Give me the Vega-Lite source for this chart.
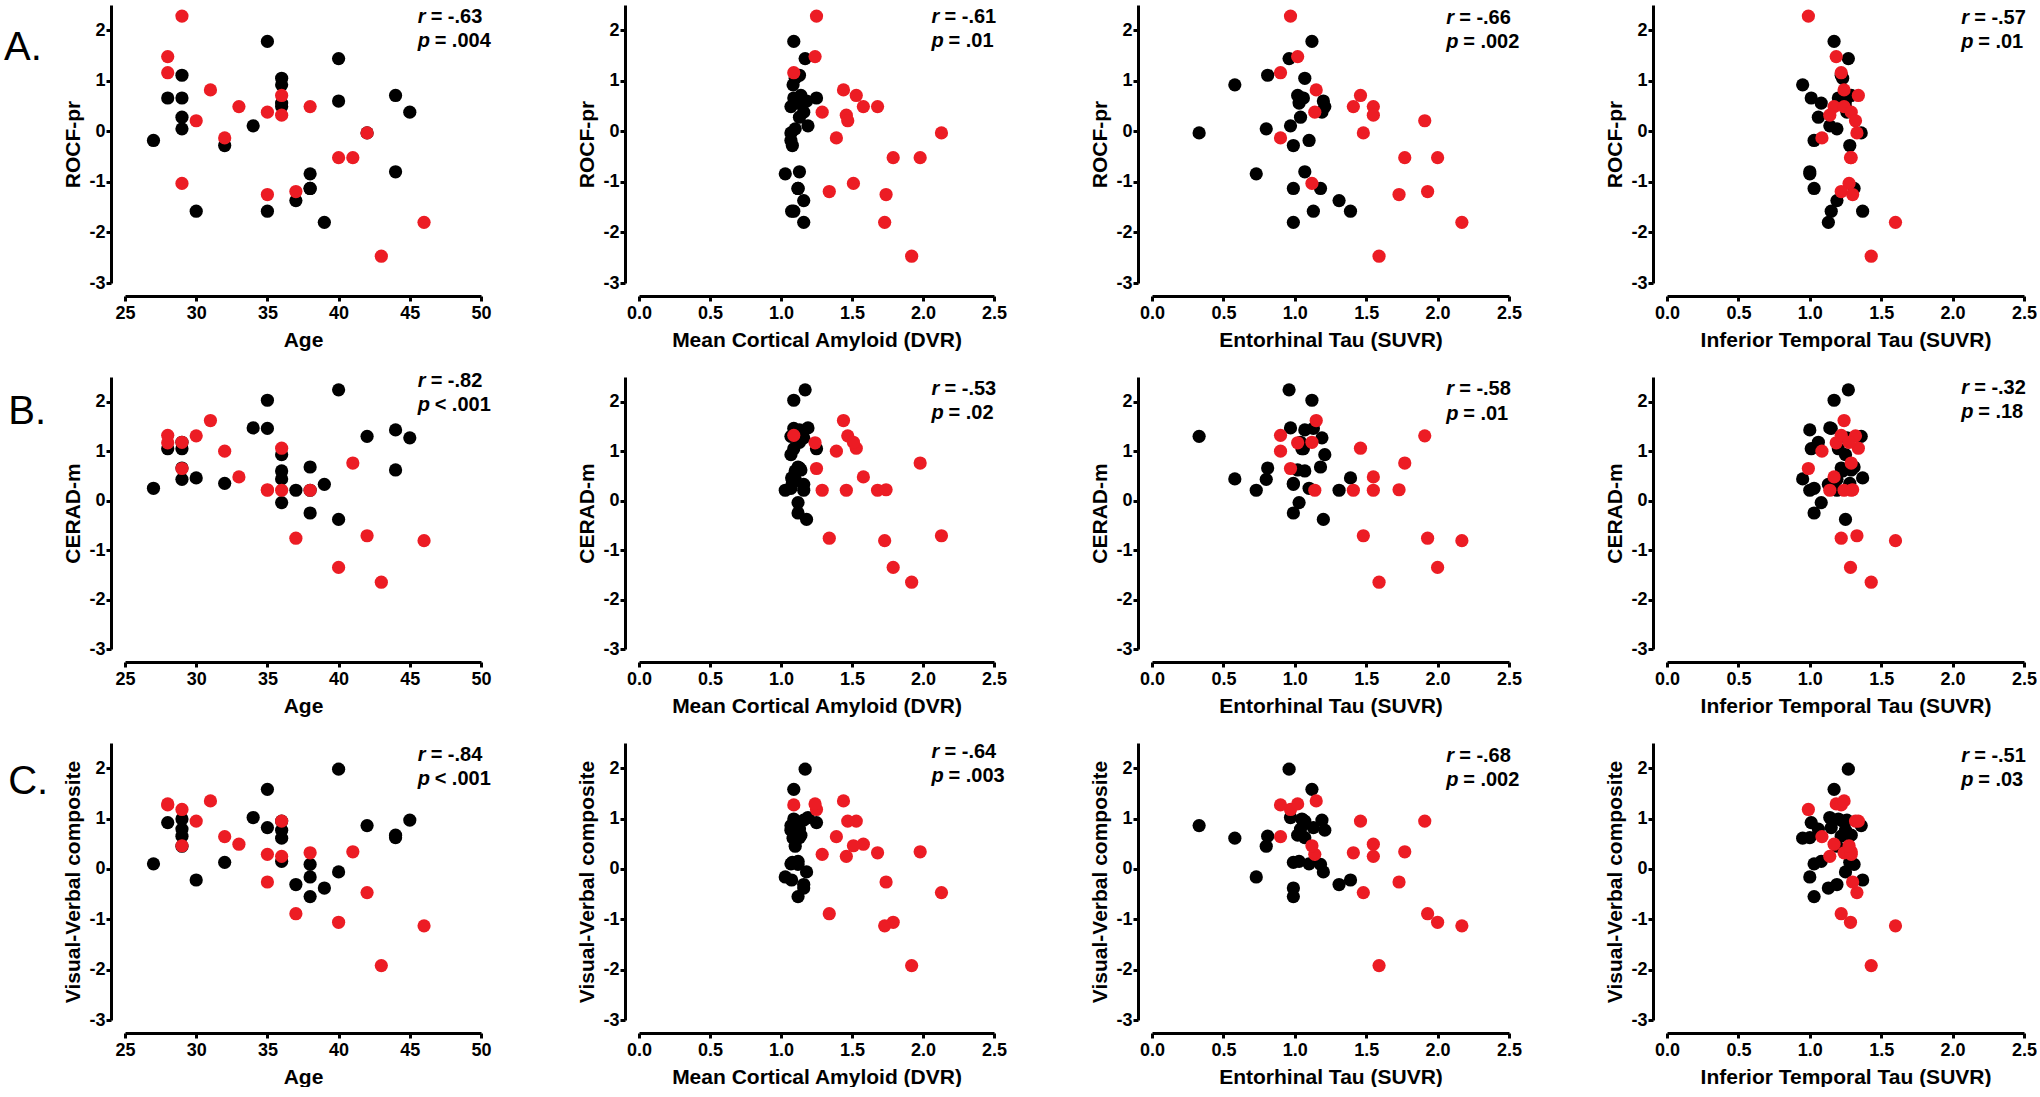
{
  "$schema": "https://vega.github.io/schema/vega-lite/v6.json",
  "background": "white",
  "padding": {"left": 3, "top": 5, "right": 0, "bottom": 0},
  "columns": 4,
  "spacing": {"row": 94, "column": 158},
  "bounds": "flush",
  "align": "each",
  "datasets": {
    "subjects": [
      {"g":"non","age":27,"amy":1.07,"ent":1.10,"it":1.03,"rocf":-0.18,"cerad":0.25,"vv":0.10},
      {"g":"non","age":28,"amy":1.25,"ent":1.06,"it":1.01,"rocf":0.66,"cerad":1.05,"vv":0.92},
      {"g":"non","age":29,"amy":1.13,"ent":0.81,"it":1.22,"rocf":1.11,"cerad":0.66,"vv":0.65},
      {"g":"non","age":29,"amy":1.09,"ent":1.05,"it":1.20,"rocf":0.66,"cerad":1.05,"vv":0.99},
      {"g":"non","age":29,"amy":1.13,"ent":1.04,"it":1.06,"rocf":0.28,"cerad":1.18,"vv":0.79},
      {"g":"non","age":29,"amy":1.10,"ent":0.80,"it":1.19,"rocf":0.05,"cerad":0.43,"vv":0.45},
      {"g":"non","age":30,"amy":1.075,"ent":1.39,"it":1.37,"rocf":-1.58,"cerad":0.46,"vv":-0.22},
      {"g":"non","age":32,"amy":1.08,"ent":0.99,"it":1.28,"rocf":-0.28,"cerad":0.35,"vv":0.13},
      {"g":"non","age":34,"amy":1.19,"ent":0.97,"it":1.14,"rocf":0.11,"cerad":1.47,"vv":1.02},
      {"g":"non","age":35,"amy":1.09,"ent":1.12,"it":1.17,"rocf":1.78,"cerad":2.03,"vv":1.58},
      {"g":"non","age":35,"amy":1.09,"ent":1.13,"it":1.15,"rocf":-1.58,"cerad":1.46,"vv":0.82},
      {"g":"non","age":36,"amy":1.10,"ent":1.07,"it":1.23,"rocf":1.05,"cerad":0.60,"vv":0.95},
      {"g":"non","age":36,"amy":1.085,"ent":0.58,"it":0.95,"rocf":0.92,"cerad":0.44,"vv":0.61},
      {"g":"non","age":36,"amy":1.12,"ent":1.03,"it":1.08,"rocf":0.56,"cerad":-0.04,"vv":0.15},
      {"g":"non","age":36,"amy":1.07,"ent":1.21,"it":1.25,"rocf":0.49,"cerad":0.93,"vv":0.77},
      {"g":"non","age":37,"amy":1.16,"ent":1.31,"it":1.19,"rocf":-1.37,"cerad":0.21,"vv":-0.31},
      {"g":"non","age":38,"amy":1.03,"ent":0.73,"it":1.00,"rocf":-0.84,"cerad":0.21,"vv":-0.16},
      {"g":"non","age":38,"amy":1.12,"ent":0.99,"it":1.03,"rocf":-1.13,"cerad":-0.25,"vv":-0.55},
      {"g":"non","age":38,"amy":1.12,"ent":1.18,"it":1.31,"rocf":-1.13,"cerad":0.68,"vv":0.09},
      {"g":"non","age":39,"amy":1.16,"ent":0.99,"it":1.13,"rocf":-1.80,"cerad":0.33,"vv":-0.38},
      {"g":"non","age":40,"amy":1.17,"ent":0.96,"it":1.27,"rocf":1.44,"cerad":2.24,"vv":1.98},
      {"g":"non","age":40,"amy":1.18,"ent":1.20,"it":1.25,"rocf":0.60,"cerad":-0.38,"vv":-0.06},
      {"g":"non","age":42,"amy":1.07,"ent":0.33,"it":1.36,"rocf":-0.03,"cerad":1.30,"vv":0.86},
      {"g":"non","age":44,"amy":1.14,"ent":1.02,"it":1.29,"rocf":0.71,"cerad":0.62,"vv":0.67},
      {"g":"non","age":44,"amy":1.13,"ent":1.07,"it":1.00,"rocf":-0.80,"cerad":1.43,"vv":0.62},
      {"g":"non","age":45,"amy":1.16,"ent":1.19,"it":1.26,"rocf":0.38,"cerad":1.27,"vv":0.97},
      {"g":"car","age":29,"amy":1.25,"ent":0.97,"it":0.99,"rocf":2.28,"cerad":0.65,"vv":1.18},
      {"g":"car","age":28,"amy":1.24,"ent":1.02,"it":1.185,"rocf":1.48,"cerad":1.17,"vv":1.29},
      {"g":"car","age":28,"amy":1.09,"ent":0.90,"it":1.22,"rocf":1.16,"cerad":1.32,"vv":1.27},
      {"g":"car","age":31,"amy":1.44,"ent":1.15,"it":1.24,"rocf":0.82,"cerad":1.62,"vv":1.35},
      {"g":"car","age":36,"amy":1.53,"ent":1.46,"it":1.34,"rocf":0.71,"cerad":1.06,"vv":0.95},
      {"g":"car","age":33,"amy":1.58,"ent":1.55,"it":1.17,"rocf":0.49,"cerad":0.48,"vv":0.49},
      {"g":"car","age":38,"amy":1.68,"ent":1.41,"it":1.24,"rocf":0.49,"cerad":0.21,"vv":0.32},
      {"g":"car","age":35,"amy":1.29,"ent":1.14,"it":1.29,"rocf":0.38,"cerad":0.21,"vv":0.29},
      {"g":"car","age":36,"amy":1.46,"ent":1.55,"it":1.14,"rocf":0.32,"cerad":0.21,"vv":0.25},
      {"g":"car","age":30,"amy":1.47,"ent":1.91,"it":1.32,"rocf":0.21,"cerad":1.31,"vv":0.95},
      {"g":"car","age":32,"amy":1.39,"ent":0.90,"it":1.085,"rocf":-0.13,"cerad":1.00,"vv":0.64},
      {"g":"car","age":42,"amy":2.13,"ent":1.48,"it":1.33,"rocf":-0.03,"cerad":-0.71,"vv":-0.47},
      {"g":"car","age":41,"amy":1.98,"ent":1.77,"it":1.29,"rocf":-0.52,"cerad":0.76,"vv":0.34},
      {"g":"car","age":40,"amy":1.79,"ent":2.00,"it":1.285,"rocf":-0.52,"cerad":-1.35,"vv":-1.06},
      {"g":"car","age":29,"amy":1.51,"ent":1.12,"it":1.275,"rocf":-1.03,"cerad":1.18,"vv":0.46},
      {"g":"car","age":37,"amy":1.34,"ent":1.93,"it":1.22,"rocf":-1.19,"cerad":-0.76,"vv":-0.89},
      {"g":"car","age":35,"amy":1.74,"ent":1.73,"it":1.30,"rocf":-1.25,"cerad":0.22,"vv":-0.26},
      {"g":"car","age":46,"amy":1.73,"ent":2.17,"it":1.60,"rocf":-1.80,"cerad":-0.81,"vv":-1.13},
      {"g":"car","age":43,"amy":1.92,"ent":1.59,"it":1.43,"rocf":-2.47,"cerad":-1.65,"vv":-1.92}
    ],
    "stats": [
      {"panel":"A1","r":"= -.63","p":"= .004","lab":"A."},
      {"panel":"A2","r":"= -.61","p":"= .01"},
      {"panel":"A3","r":"= -.66","p":"= .002"},
      {"panel":"A4","r":"= -.57","p":"= .01"},
      {"panel":"B1","r":"= -.82","p":"< .001","lab":"B."},
      {"panel":"B2","r":"= -.53","p":"= .02"},
      {"panel":"B3","r":"= -.58","p":"= .01"},
      {"panel":"B4","r":"= -.32","p":"= .18"},
      {"panel":"C1","r":"= -.84","p":"< .001","lab":"C."},
      {"panel":"C2","r":"= -.64","p":"= .003"},
      {"panel":"C3","r":"= -.68","p":"= .002"},
      {"panel":"C4","r":"= -.51","p":"= .03"}
    ]
  },
  "concat": [
    {"width": 356, "height": 278, "layer": [
      {"data": {"name": "subjects"}, "mark": {"type": "circle", "size": 175, "opacity": 1}, "encoding": {
        "x": {"field": "age", "type": "quantitative", "scale": {"domain": [25, 50], "nice": false, "zero": false}, "axis": {"title": "Age", "values": [25, 30, 35, 40, 45, 50]}},
        "y": {"field": "rocf", "type": "quantitative", "scale": {"domain": [-3, 2.5], "nice": false, "zero": false}, "axis": {"title": "ROCF-pr"}},
        "color": {"field": "g", "type": "nominal", "scale": {"domain": ["non", "car"], "range": ["#000000", "#EC1C24"]}, "legend": null}}},
      {"data": {"name": "stats"}, "transform": [{"filter": "datum.panel === 'A1'"}], "encoding": {"x": {"datum": 45.55}}, "layer": [
        {"mark": {"type": "text", "fontStyle": "italic"}, "encoding": {"y": {"datum": 2.14}, "text": {"value": "r"}}},
        {"mark": {"type": "text", "dx": 13}, "encoding": {"y": {"datum": 2.14}, "text": {"field": "r"}}},
        {"mark": {"type": "text", "fontStyle": "italic"}, "encoding": {"y": {"datum": 1.66}, "text": {"value": "p"}}},
        {"mark": {"type": "text", "dx": 17}, "encoding": {"y": {"datum": 1.66}, "text": {"field": "p"}}},
        {"mark": {"type": "text", "fontSize": 40, "fontWeight": "normal"}, "encoding": {"x": {"datum": 16.5}, "y": {"datum": 1.42}, "text": {"field": "lab"}}}
      ]}
    ]},
    {"width": 355, "height": 278, "layer": [
      {"data": {"name": "subjects"}, "mark": {"type": "circle", "size": 175, "opacity": 1}, "encoding": {
        "x": {"field": "amy", "type": "quantitative", "scale": {"domain": [0, 2.5], "nice": false}, "axis": {"title": "Mean Cortical Amyloid (DVR)", "values": [0, 0.5, 1, 1.5, 2, 2.5], "format": ".1f"}},
        "y": {"field": "rocf", "type": "quantitative", "scale": {"domain": [-3, 2.5], "nice": false, "zero": false}, "axis": {"title": "ROCF-pr"}},
        "color": {"field": "g", "type": "nominal", "scale": {"domain": ["non", "car"], "range": ["#000000", "#EC1C24"]}, "legend": null}}},
      {"data": {"name": "stats"}, "transform": [{"filter": "datum.panel === 'A2'"}], "encoding": {"x": {"datum": 2.06}}, "layer": [
        {"mark": {"type": "text", "fontStyle": "italic"}, "encoding": {"y": {"datum": 2.14}, "text": {"value": "r"}}},
        {"mark": {"type": "text", "dx": 13}, "encoding": {"y": {"datum": 2.14}, "text": {"field": "r"}}},
        {"mark": {"type": "text", "fontStyle": "italic"}, "encoding": {"y": {"datum": 1.66}, "text": {"value": "p"}}},
        {"mark": {"type": "text", "dx": 17}, "encoding": {"y": {"datum": 1.66}, "text": {"field": "p"}}}
      ]}
    ]},
    {"width": 357, "height": 278, "layer": [
      {"data": {"name": "subjects"}, "mark": {"type": "circle", "size": 175, "opacity": 1}, "encoding": {
        "x": {"field": "ent", "type": "quantitative", "scale": {"domain": [0, 2.5], "nice": false}, "axis": {"title": "Entorhinal Tau (SUVR)", "values": [0, 0.5, 1, 1.5, 2, 2.5], "format": ".1f"}},
        "y": {"field": "rocf", "type": "quantitative", "scale": {"domain": [-3, 2.5], "nice": false, "zero": false}, "axis": {"title": "ROCF-pr"}},
        "color": {"field": "g", "type": "nominal", "scale": {"domain": ["non", "car"], "range": ["#000000", "#EC1C24"]}, "legend": null}}},
      {"data": {"name": "stats"}, "transform": [{"filter": "datum.panel === 'A3'"}], "encoding": {"x": {"datum": 2.06}}, "layer": [
        {"mark": {"type": "text", "fontStyle": "italic"}, "encoding": {"y": {"datum": 2.13}, "text": {"value": "r"}}},
        {"mark": {"type": "text", "dx": 13}, "encoding": {"y": {"datum": 2.13}, "text": {"field": "r"}}},
        {"mark": {"type": "text", "fontStyle": "italic"}, "encoding": {"y": {"datum": 1.65}, "text": {"value": "p"}}},
        {"mark": {"type": "text", "dx": 17}, "encoding": {"y": {"datum": 1.65}, "text": {"field": "p"}}}
      ]}
    ]},
    {"width": 357, "height": 278, "layer": [
      {"data": {"name": "subjects"}, "mark": {"type": "circle", "size": 175, "opacity": 1}, "encoding": {
        "x": {"field": "it", "type": "quantitative", "scale": {"domain": [0, 2.5], "nice": false}, "axis": {"title": "Inferior Temporal Tau (SUVR)", "values": [0, 0.5, 1, 1.5, 2, 2.5], "format": ".1f"}},
        "y": {"field": "rocf", "type": "quantitative", "scale": {"domain": [-3, 2.5], "nice": false, "zero": false}, "axis": {"title": "ROCF-pr"}},
        "color": {"field": "g", "type": "nominal", "scale": {"domain": ["non", "car"], "range": ["#000000", "#EC1C24"]}, "legend": null}}},
      {"data": {"name": "stats"}, "transform": [{"filter": "datum.panel === 'A4'"}], "encoding": {"x": {"datum": 2.06}}, "layer": [
        {"mark": {"type": "text", "fontStyle": "italic"}, "encoding": {"y": {"datum": 2.13}, "text": {"value": "r"}}},
        {"mark": {"type": "text", "dx": 13}, "encoding": {"y": {"datum": 2.13}, "text": {"field": "r"}}},
        {"mark": {"type": "text", "fontStyle": "italic"}, "encoding": {"y": {"datum": 1.64}, "text": {"value": "p"}}},
        {"mark": {"type": "text", "dx": 17}, "encoding": {"y": {"datum": 1.64}, "text": {"field": "p"}}}
      ]}
    ]},
    {"width": 356, "height": 272, "layer": [
      {"data": {"name": "subjects"}, "mark": {"type": "circle", "size": 175, "opacity": 1}, "encoding": {
        "x": {"field": "age", "type": "quantitative", "scale": {"domain": [25, 50], "nice": false, "zero": false}, "axis": {"title": "Age", "values": [25, 30, 35, 40, 45, 50]}},
        "y": {"field": "cerad", "type": "quantitative", "scale": {"domain": [-3, 2.5], "nice": false, "zero": false}, "axis": {"title": "CERAD-m"}},
        "color": {"field": "g", "type": "nominal", "scale": {"domain": ["non", "car"], "range": ["#000000", "#EC1C24"]}, "legend": null}}},
      {"data": {"name": "stats"}, "transform": [{"filter": "datum.panel === 'B1'"}], "encoding": {"x": {"datum": 45.55}}, "layer": [
        {"mark": {"type": "text", "fontStyle": "italic"}, "encoding": {"y": {"datum": 2.30}, "text": {"value": "r"}}},
        {"mark": {"type": "text", "dx": 13}, "encoding": {"y": {"datum": 2.30}, "text": {"field": "r"}}},
        {"mark": {"type": "text", "fontStyle": "italic"}, "encoding": {"y": {"datum": 1.81}, "text": {"value": "p"}}},
        {"mark": {"type": "text", "dx": 17}, "encoding": {"y": {"datum": 1.81}, "text": {"field": "p"}}},
        {"mark": {"type": "text", "fontSize": 40, "fontWeight": "normal"}, "encoding": {"x": {"datum": 16.8}, "y": {"datum": 1.54}, "text": {"field": "lab"}}}
      ]}
    ]},
    {"width": 355, "height": 272, "layer": [
      {"data": {"name": "subjects"}, "mark": {"type": "circle", "size": 175, "opacity": 1}, "encoding": {
        "x": {"field": "amy", "type": "quantitative", "scale": {"domain": [0, 2.5], "nice": false}, "axis": {"title": "Mean Cortical Amyloid (DVR)", "values": [0, 0.5, 1, 1.5, 2, 2.5], "format": ".1f"}},
        "y": {"field": "cerad", "type": "quantitative", "scale": {"domain": [-3, 2.5], "nice": false, "zero": false}, "axis": {"title": "CERAD-m"}},
        "color": {"field": "g", "type": "nominal", "scale": {"domain": ["non", "car"], "range": ["#000000", "#EC1C24"]}, "legend": null}}},
      {"data": {"name": "stats"}, "transform": [{"filter": "datum.panel === 'B2'"}], "encoding": {"x": {"datum": 2.06}}, "layer": [
        {"mark": {"type": "text", "fontStyle": "italic"}, "encoding": {"y": {"datum": 2.13}, "text": {"value": "r"}}},
        {"mark": {"type": "text", "dx": 13}, "encoding": {"y": {"datum": 2.13}, "text": {"field": "r"}}},
        {"mark": {"type": "text", "fontStyle": "italic"}, "encoding": {"y": {"datum": 1.65}, "text": {"value": "p"}}},
        {"mark": {"type": "text", "dx": 17}, "encoding": {"y": {"datum": 1.65}, "text": {"field": "p"}}}
      ]}
    ]},
    {"width": 357, "height": 272, "layer": [
      {"data": {"name": "subjects"}, "mark": {"type": "circle", "size": 175, "opacity": 1}, "encoding": {
        "x": {"field": "ent", "type": "quantitative", "scale": {"domain": [0, 2.5], "nice": false}, "axis": {"title": "Entorhinal Tau (SUVR)", "values": [0, 0.5, 1, 1.5, 2, 2.5], "format": ".1f"}},
        "y": {"field": "cerad", "type": "quantitative", "scale": {"domain": [-3, 2.5], "nice": false, "zero": false}, "axis": {"title": "CERAD-m"}},
        "color": {"field": "g", "type": "nominal", "scale": {"domain": ["non", "car"], "range": ["#000000", "#EC1C24"]}, "legend": null}}},
      {"data": {"name": "stats"}, "transform": [{"filter": "datum.panel === 'B3'"}], "encoding": {"x": {"datum": 2.06}}, "layer": [
        {"mark": {"type": "text", "fontStyle": "italic"}, "encoding": {"y": {"datum": 2.13}, "text": {"value": "r"}}},
        {"mark": {"type": "text", "dx": 13}, "encoding": {"y": {"datum": 2.13}, "text": {"field": "r"}}},
        {"mark": {"type": "text", "fontStyle": "italic"}, "encoding": {"y": {"datum": 1.64}, "text": {"value": "p"}}},
        {"mark": {"type": "text", "dx": 17}, "encoding": {"y": {"datum": 1.64}, "text": {"field": "p"}}}
      ]}
    ]},
    {"width": 357, "height": 272, "layer": [
      {"data": {"name": "subjects"}, "mark": {"type": "circle", "size": 175, "opacity": 1}, "encoding": {
        "x": {"field": "it", "type": "quantitative", "scale": {"domain": [0, 2.5], "nice": false}, "axis": {"title": "Inferior Temporal Tau (SUVR)", "values": [0, 0.5, 1, 1.5, 2, 2.5], "format": ".1f"}},
        "y": {"field": "cerad", "type": "quantitative", "scale": {"domain": [-3, 2.5], "nice": false, "zero": false}, "axis": {"title": "CERAD-m"}},
        "color": {"field": "g", "type": "nominal", "scale": {"domain": ["non", "car"], "range": ["#000000", "#EC1C24"]}, "legend": null}}},
      {"data": {"name": "stats"}, "transform": [{"filter": "datum.panel === 'B4'"}], "encoding": {"x": {"datum": 2.06}}, "layer": [
        {"mark": {"type": "text", "fontStyle": "italic"}, "encoding": {"y": {"datum": 2.15}, "text": {"value": "r"}}},
        {"mark": {"type": "text", "dx": 13}, "encoding": {"y": {"datum": 2.15}, "text": {"field": "r"}}},
        {"mark": {"type": "text", "fontStyle": "italic"}, "encoding": {"y": {"datum": 1.67}, "text": {"value": "p"}}},
        {"mark": {"type": "text", "dx": 17}, "encoding": {"y": {"datum": 1.67}, "text": {"field": "p"}}}
      ]}
    ]},
    {"width": 356, "height": 277, "layer": [
      {"data": {"name": "subjects"}, "mark": {"type": "circle", "size": 175, "opacity": 1}, "encoding": {
        "x": {"field": "age", "type": "quantitative", "scale": {"domain": [25, 50], "nice": false, "zero": false}, "axis": {"title": "Age", "values": [25, 30, 35, 40, 45, 50]}},
        "y": {"field": "vv", "type": "quantitative", "scale": {"domain": [-3, 2.5], "nice": false, "zero": false}, "axis": {"title": "Visual-Verbal composite"}},
        "color": {"field": "g", "type": "nominal", "scale": {"domain": ["non", "car"], "range": ["#000000", "#EC1C24"]}, "legend": null}}},
      {"data": {"name": "stats"}, "transform": [{"filter": "datum.panel === 'C1'"}], "encoding": {"x": {"datum": 45.55}}, "layer": [
        {"mark": {"type": "text", "fontStyle": "italic"}, "encoding": {"y": {"datum": 2.15}, "text": {"value": "r"}}},
        {"mark": {"type": "text", "dx": 13}, "encoding": {"y": {"datum": 2.15}, "text": {"field": "r"}}},
        {"mark": {"type": "text", "fontStyle": "italic"}, "encoding": {"y": {"datum": 1.67}, "text": {"value": "p"}}},
        {"mark": {"type": "text", "dx": 17}, "encoding": {"y": {"datum": 1.67}, "text": {"field": "p"}}},
        {"mark": {"type": "text", "fontSize": 40, "fontWeight": "normal"}, "encoding": {"x": {"datum": 16.8}, "y": {"datum": 1.48}, "text": {"field": "lab"}}}
      ]}
    ]},
    {"width": 355, "height": 277, "layer": [
      {"data": {"name": "subjects"}, "mark": {"type": "circle", "size": 175, "opacity": 1}, "encoding": {
        "x": {"field": "amy", "type": "quantitative", "scale": {"domain": [0, 2.5], "nice": false}, "axis": {"title": "Mean Cortical Amyloid (DVR)", "values": [0, 0.5, 1, 1.5, 2, 2.5], "format": ".1f"}},
        "y": {"field": "vv", "type": "quantitative", "scale": {"domain": [-3, 2.5], "nice": false, "zero": false}, "axis": {"title": "Visual-Verbal composite"}},
        "color": {"field": "g", "type": "nominal", "scale": {"domain": ["non", "car"], "range": ["#000000", "#EC1C24"]}, "legend": null}}},
      {"data": {"name": "stats"}, "transform": [{"filter": "datum.panel === 'C2'"}], "encoding": {"x": {"datum": 2.06}}, "layer": [
        {"mark": {"type": "text", "fontStyle": "italic"}, "encoding": {"y": {"datum": 2.2}, "text": {"value": "r"}}},
        {"mark": {"type": "text", "dx": 13}, "encoding": {"y": {"datum": 2.2}, "text": {"field": "r"}}},
        {"mark": {"type": "text", "fontStyle": "italic"}, "encoding": {"y": {"datum": 1.72}, "text": {"value": "p"}}},
        {"mark": {"type": "text", "dx": 17}, "encoding": {"y": {"datum": 1.72}, "text": {"field": "p"}}}
      ]}
    ]},
    {"width": 357, "height": 277, "layer": [
      {"data": {"name": "subjects"}, "mark": {"type": "circle", "size": 175, "opacity": 1}, "encoding": {
        "x": {"field": "ent", "type": "quantitative", "scale": {"domain": [0, 2.5], "nice": false}, "axis": {"title": "Entorhinal Tau (SUVR)", "values": [0, 0.5, 1, 1.5, 2, 2.5], "format": ".1f"}},
        "y": {"field": "vv", "type": "quantitative", "scale": {"domain": [-3, 2.5], "nice": false, "zero": false}, "axis": {"title": "Visual-Verbal composite"}},
        "color": {"field": "g", "type": "nominal", "scale": {"domain": ["non", "car"], "range": ["#000000", "#EC1C24"]}, "legend": null}}},
      {"data": {"name": "stats"}, "transform": [{"filter": "datum.panel === 'C3'"}], "encoding": {"x": {"datum": 2.06}}, "layer": [
        {"mark": {"type": "text", "fontStyle": "italic"}, "encoding": {"y": {"datum": 2.13}, "text": {"value": "r"}}},
        {"mark": {"type": "text", "dx": 13}, "encoding": {"y": {"datum": 2.13}, "text": {"field": "r"}}},
        {"mark": {"type": "text", "fontStyle": "italic"}, "encoding": {"y": {"datum": 1.65}, "text": {"value": "p"}}},
        {"mark": {"type": "text", "dx": 17}, "encoding": {"y": {"datum": 1.65}, "text": {"field": "p"}}}
      ]}
    ]},
    {"width": 357, "height": 277, "layer": [
      {"data": {"name": "subjects"}, "mark": {"type": "circle", "size": 175, "opacity": 1}, "encoding": {
        "x": {"field": "it", "type": "quantitative", "scale": {"domain": [0, 2.5], "nice": false}, "axis": {"title": "Inferior Temporal Tau (SUVR)", "values": [0, 0.5, 1, 1.5, 2, 2.5], "format": ".1f"}},
        "y": {"field": "vv", "type": "quantitative", "scale": {"domain": [-3, 2.5], "nice": false, "zero": false}, "axis": {"title": "Visual-Verbal composite"}},
        "color": {"field": "g", "type": "nominal", "scale": {"domain": ["non", "car"], "range": ["#000000", "#EC1C24"]}, "legend": null}}},
      {"data": {"name": "stats"}, "transform": [{"filter": "datum.panel === 'C4'"}], "encoding": {"x": {"datum": 2.06}}, "layer": [
        {"mark": {"type": "text", "fontStyle": "italic"}, "encoding": {"y": {"datum": 2.13}, "text": {"value": "r"}}},
        {"mark": {"type": "text", "dx": 13}, "encoding": {"y": {"datum": 2.13}, "text": {"field": "r"}}},
        {"mark": {"type": "text", "fontStyle": "italic"}, "encoding": {"y": {"datum": 1.65}, "text": {"value": "p"}}},
        {"mark": {"type": "text", "dx": 17}, "encoding": {"y": {"datum": 1.65}, "text": {"field": "p"}}}
      ]}
    ]}
  ],
  "config": {
    "view": {"stroke": null},
    "font": "Liberation Sans",
    "axis": {"grid": false, "domainColor": "#000000", "domainWidth": 3, "tickColor": "#000000", "tickWidth": 3, "tickSize": 5, "labelFont": "Liberation Sans", "labelFontSize": 18, "labelFontWeight": "bold", "labelColor": "#000000", "labelFlush": false, "labelOverlap": false, "titleFont": "Liberation Sans", "titleFontSize": 21, "titleFontWeight": "bold", "titleColor": "#000000"},
    "axisX": {"offset": 13, "titlePadding": 7, "labelPadding": 3},
    "axisY": {"offset": 14, "titlePadding": 5, "labelPadding": 1, "values": [-3, -2, -1, 0, 1, 2], "labelExpr": "datum.value < 0 ? '-' + abs(datum.value) : '' + datum.value"},
    "text": {"font": "Liberation Sans", "fontSize": 20, "fontWeight": "bold", "align": "left", "baseline": "alphabetic", "color": "#000000"}
  }
}
